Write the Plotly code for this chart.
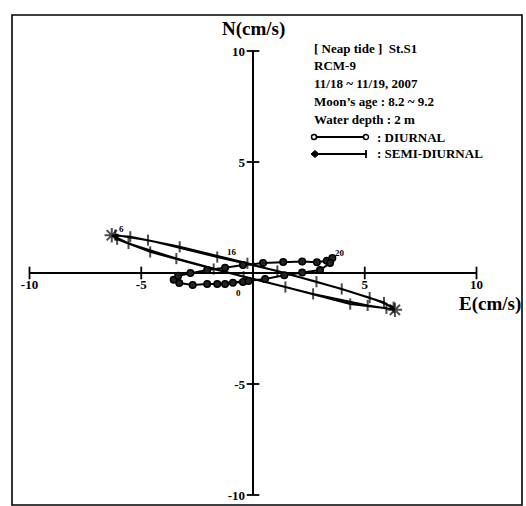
import plotly.graph_objects as go

# ---------------- data ----------------
# Semi-diurnal current hodograph (E, N) in cm/s, hourly
E_sd = [6.29, 5.22, 2.84, -0.25, -3.28, -5.49, -6.32, -5.57, -3.43, -0.42, 2.69, 5.13, 6.35,
        5.86, 3.97, 1.09, -1.60, -4.70, -6.16, -6.08, -4.60, -1.76, 1.45, 4.35, 5.97]
N_sd = [-1.54, -1.11, -0.39, 0.44, 1.18, 1.63, 1.70, 1.33, 0.65, -0.17, -0.94, -1.46, -1.66,
        -1.33, -0.72, 0.09, 0.72, 1.48, 1.71, 1.52, 0.95, 0.18, -0.63, -1.40, -1.59]

# Diurnal current hodograph (E, N) in cm/s, hourly
E_d = [-0.45, -1.25, -2.05, -2.70, -3.30, -3.55, -3.35, -2.80, -2.05, -1.25, -0.45, 0.45, 1.35,
       2.20, 2.86, 3.30, 3.55, 3.45, 3.00, 2.20, 1.40, 0.54, -0.20, -0.90, -1.60]
N_d = [-0.40, -0.50, -0.50, -0.54, -0.45, -0.30, -0.12, 0.00, 0.13, 0.24, 0.36, 0.45, 0.50,
       0.52, 0.48, 0.55, 0.68, 0.45, 0.13, 0.02, -0.10, -0.27, -0.36, -0.44, -0.50]

x_ticks = [-10, -5, 5, 10]
y_ticks = [-10, -5, 5, 10]
x_title = "E(cm/s)"
y_title = "N(cm/s)"
info_lines = ["[ Neap tide ]&nbsp;&nbsp;St.S1", "RCM-9", "11/18 ~ 11/19, 2007",
              "Moon\u2019s age : 8.2 ~ 9.2", "Water depth : 2 m"]
legend_names = ["DIURNAL", "SEMI-DIURNAL"]
hour_labels = ["6", "16", "0", "20"]

# ---------------- layout geometry ----------------
W, H = 526, 506
ML, MR, MT, MB = 12, 4, 15, 1
X0PX, Y0PX = 253.0, 273.0       # pixel position of origin
PXX, PXY = 22.35, 22.2          # pixels per unit
xr = [(ML - X0PX) / PXX, (W - MR - X0PX) / PXX]
yr = [(Y0PX - (H - MB)) / PXY, (Y0PX - MT) / PXY]
PW, PH = W - ML - MR, H - MT - MB


def pxx(px):
    return (px - ML) / PW


def pxy(py):
    return (H - MB - py) / PH


FONT = "Liberation Serif"
BLACK = "black"

fig = go.Figure()

# axes cross lines
fig.add_trace(go.Scatter(x=[min(x_ticks), max(x_ticks)], y=[0, 0], mode="lines",
                         line=dict(color=BLACK, width=2), hoverinfo="skip", showlegend=False))
fig.add_trace(go.Scatter(x=[0, 0], y=[min(y_ticks), max(y_ticks)], mode="lines",
                         line=dict(color=BLACK, width=2), hoverinfo="skip", showlegend=False))
# tick crosses
fig.add_trace(go.Scatter(x=x_ticks, y=[0] * len(x_ticks), mode="markers",
                         marker=dict(symbol="line-ns-open", size=9, color=BLACK,
                                     line=dict(color=BLACK, width=1.8)),
                         hoverinfo="skip", showlegend=False))
fig.add_trace(go.Scatter(x=[0] * len(y_ticks), y=y_ticks, mode="markers",
                         marker=dict(symbol="line-ew-open", size=9, color=BLACK,
                                     line=dict(color=BLACK, width=1.8)),
                         hoverinfo="skip", showlegend=False))

# semi-diurnal
imin = E_sd.index(min(E_sd))
imax = E_sd.index(max(E_sd))
sym_sd = ["asterisk-open" if i in (imin, imax) else "line-ns-open" for i in range(len(E_sd))]
size_sd = [12 if i in (imin, imax) else 8 for i in range(len(E_sd))]
fig.add_trace(go.Scatter(x=E_sd, y=N_sd, mode="lines+markers", name=legend_names[1],
                         line=dict(color=BLACK, width=2),
                         marker=dict(symbol=sym_sd, size=size_sd, color=BLACK,
                                     line=dict(color=BLACK, width=2)),
                         showlegend=False))
# diurnal
fig.add_trace(go.Scatter(x=E_d, y=N_d, mode="lines+markers", name=legend_names[0],
                         line=dict(color=BLACK, width=2),
                         marker=dict(symbol="circle", size=6.5, color="#222222",
                                     line=dict(color=BLACK, width=1.5)),
                         showlegend=False))

annotations = []
# hour labels on curves
jmax = E_d.index(max(E_d))
lab_pts = [(E_sd[imin], N_sd[imin], 10, 6), (E_sd[16], N_sd[16], 15, 5),
           (E_d[0], N_d[0], -4, -11), (E_d[jmax], N_d[jmax], 8, 5)]
for txt, (lx, ly, dx, dy) in zip(hour_labels, lab_pts):
    annotations.append(dict(x=lx, y=ly, xref="x", yref="y", text=txt, showarrow=False,
                            xshift=dx, yshift=dy, font=dict(family=FONT, size=9, color=BLACK, weight="bold")))

# axis titles
annotations.append(dict(x=pxx(253), y=pxy(29), xref="paper", yref="paper", text=y_title,
                        showarrow=False, xanchor="center", yanchor="middle",
                        font=dict(family=FONT, size=19, color=BLACK, weight="bold")))
annotations.append(dict(x=pxx(523), y=pxy(304), xref="paper", yref="paper", text=x_title,
                        showarrow=False, xanchor="right", yanchor="middle",
                        font=dict(family=FONT, size=19, color=BLACK, weight="bold")))

# info text block
line_y = [48, 65, 83, 101, 119, 137, 154]
for t, yy in zip(info_lines, line_y):
    annotations.append(dict(x=pxx(312), y=pxy(yy), xref="paper", yref="paper", text=t,
                            showarrow=False, xanchor="left", yanchor="middle",
                            font=dict(family=FONT, size=13, color=BLACK, weight="bold")))
for name, yy in zip(legend_names, line_y[5:]):
    annotations.append(dict(x=pxx(375), y=pxy(yy), xref="paper", yref="paper", text=": " + name,
                            showarrow=False, xanchor="left", yanchor="middle",
                            font=dict(family=FONT, size=13, color=BLACK, weight="bold")))

shapes = [dict(type="rect", xref="paper", yref="paper", x0=0, y0=0, x1=1, y1=1,
               line=dict(color=BLACK, width=1.6))]
# legend samples
for yy in line_y[5:]:
    shapes.append(dict(type="line", xref="paper", yref="paper", x0=pxx(313), x1=pxx(367),
                       y0=pxy(yy), y1=pxy(yy), line=dict(color=BLACK, width=1.8)))
yd = line_y[5]
for cx in (314, 366):
    shapes.append(dict(type="circle", xref="paper", yref="paper", xsizemode="pixel", ysizemode="pixel",
                       xanchor=pxx(cx), yanchor=pxy(yd), x0=-2.5, x1=2.5, y0=-2.5, y1=2.5,
                       fillcolor="white", line=dict(color=BLACK, width=1.5)))
ys = line_y[6]
shapes.append(dict(type="path", xref="paper", yref="paper", xsizemode="pixel", ysizemode="pixel",
                   xanchor=pxx(315), yanchor=pxy(ys), path="M -4 0 L 0 3.5 L 4 0 L 0 -3.5 Z",
                   fillcolor=BLACK, line=dict(color=BLACK, width=1)))
shapes.append(dict(type="line", xref="paper", yref="paper", xsizemode="pixel", ysizemode="pixel",
                   xanchor=pxx(366), yanchor=pxy(ys), x0=0, x1=0, y0=-4, y1=4,
                   line=dict(color=BLACK, width=1.8)))

axfont = dict(family=FONT, size=13, color=BLACK, weight="bold")
fig.update_layout(
    width=W, height=H,
    margin=dict(l=ML, r=MR, t=MT, b=MB),
    paper_bgcolor="white", plot_bgcolor="white",
    xaxis=dict(range=xr, showgrid=False, zeroline=False, showline=False,
               tickvals=x_ticks, ticktext=[str(v) for v in x_ticks], ticks="",
               tickfont=axfont, anchor="free", position=pxy(Y0PX), ticklabelstandoff=2,
               fixedrange=True),
    yaxis=dict(range=yr, showgrid=False, zeroline=False, showline=False,
               tickvals=y_ticks, ticktext=[str(v) for v in y_ticks], ticks="",
               tickfont=axfont, anchor="free", position=pxx(X0PX), ticklabelstandoff=8,
               fixedrange=True),
    annotations=annotations,
    shapes=shapes,
    showlegend=False,
)

fig.write_html("out.html", config={"displayModeBar": False},
               post_script="document.body.style.margin='0';document.body.style.overflow='hidden';")
